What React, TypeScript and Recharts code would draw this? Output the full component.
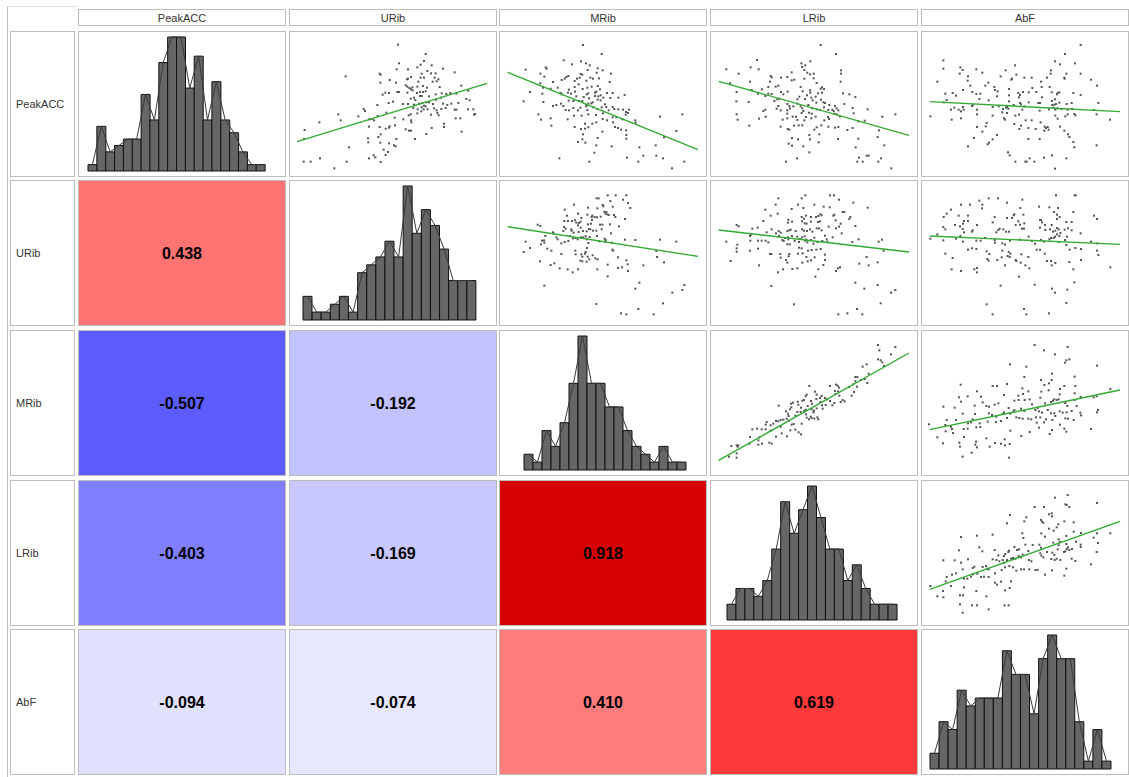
import React from 'react';
import { ScatterChart, Scatter, XAxis, YAxis, ComposedChart, Bar, Line } from 'recharts';

const variables = ['PeakACC', 'URib', 'MRib', 'LRib', 'AbF'];

// histogram bin counts (diagonal)
const histPeakACC = [1, 7, 3, 4, 5, 5, 12, 8, 17, 21, 21, 13, 18, 8, 14, 8, 6, 3, 1, 1];
const histURib = [3, 1, 1, 2, 3, 1, 6, 7, 8, 10, 8, 17, 11, 14, 12, 9, 5, 5, 5];
const histMRib = [2, 1, 5, 3, 6, 11, 17, 11, 11, 8, 8, 5, 3, 2, 1, 3, 1, 1];
const histLRib = [2, 4, 4, 3, 5, 9, 15, 11, 14, 17, 13, 9, 9, 5, 7, 4, 2, 2, 2];
const histAbF = [2, 6, 5, 10, 8, 9, 9, 9, 15, 12, 12, 7, 14, 17, 14, 14, 6, 1, 5, 1];

// correlations (lower triangle, row by row)
const corrURib = [0.438];
const corrMRib = [-0.507, -0.192];
const corrLRib = [-0.403, -0.169, 0.918];
const corrAbF = [-0.094, -0.074, 0.41, 0.619];

// scatter points, [x, y] in panel units (x 0-624, y 0-435)
const ptsPeakACC_URib = [[327,394],[410,366],[330,338],[405,345],[395,334],[428,332],[385,326],[357,320],[323,320],[462,322],[415,315],[426,308],[440,308],[398,307],[272,307],[275,304],[170,299],[366,297],[354,290],[357,292],[437,295],[405,295],[395,295],[497,311],[448,290],[302,288],[388,283],[431,283],[274,280],[321,280],[443,284],[350,272],[355,268],[361,264],[370,266],[366,260],[385,268],[402,270],[414,265],[452,267],[517,271],[289,250],[281,244],[300,249],[325,252],[330,252],[355,250],[371,257],[384,249],[393,252],[402,252],[410,254],[420,239],[440,245],[458,248],[472,246],[484,249],[502,247],[538,256],[456,235],[398,240],[393,240],[375,235],[379,228],[365,232],[312,223],[299,219],[265,213],[342,216],[357,216],[375,214],[390,217],[400,219],[405,211],[412,221],[420,221],[432,216],[441,229],[462,217],[475,213],[487,217],[508,219],[532,231],[542,227],[373,204],[386,200],[398,206],[404,200],[410,209],[416,200],[435,203],[443,197],[457,201],[470,204],[497,199],[502,199],[537,200],[553,200],[555,184],[558,186],[224,201],[228,195],[148,185],[208,179],[155,167],[241,170],[248,171],[255,167],[266,180],[292,190],[317,175],[343,170],[359,182],[365,185],[366,167],[367,161],[385,188],[397,194],[426,184],[445,189],[449,182],[465,157],[465,147],[500,173],[514,173],[518,133],[91,161],[47,138],[45,111],[240,148],[272,147],[290,142],[300,145],[302,149],[318,152],[350,140],[360,136],[366,136],[428,144],[412,126],[378,111],[322,111],[237,113],[238,101],[268,117],[275,125],[180,86],[274,100],[300,98],[315,92],[320,89],[284,79],[297,72],[254,62],[259,56],[240,53],[290,63],[275,42],[173,43],[136,23],[93,53],[65,43],[44,43]];
const fitPeakACC_URib = [[24,103],[594,278]];

const ptsPeakACC_MRib = [[252,393],[308,366],[194,347],[246,344],[219,335],[261,338],[272,332],[140,326],[80,319],[143,322],[296,323],[293,310],[311,317],[266,318],[245,306],[250,304],[336,307],[124,307],[136,298],[208,300],[202,297],[197,292],[188,288],[162,282],[124,278],[234,292],[242,295],[227,285],[239,275],[227,267],[262,286],[274,295],[282,292],[300,293],[332,282],[278,268],[296,270],[303,260],[251,261],[265,265],[210,259],[176,265],[155,262],[132,265],[93,252],[130,247],[185,249],[188,245],[207,250],[216,247],[228,253],[232,239],[254,237],[268,248],[288,250],[292,253],[305,242],[324,249],[341,249],[377,243],[358,235],[334,234],[313,235],[305,227],[296,229],[288,240],[298,239],[263,245],[270,233],[281,221],[268,217],[277,218],[262,213],[240,225],[250,225],[223,225],[209,226],[186,217],[193,210],[172,213],[162,210],[133,222],[74,224],[200,198],[210,197],[223,204],[237,197],[244,205],[262,209],[265,198],[283,206],[295,201],[308,206],[318,215],[322,207],[329,197],[341,207],[346,201],[358,200],[372,199],[381,192],[390,199],[387,189],[312,188],[291,183],[268,185],[248,181],[225,181],[206,170],[155,173],[126,169],[118,185],[311,171],[324,167],[341,176],[352,176],[370,170],[380,184],[409,167],[410,160],[342,161],[292,161],[280,157],[258,157],[227,147],[246,141],[258,142],[268,146],[157,151],[348,147],[357,144],[366,139],[381,137],[382,123],[382,112],[310,133],[252,125],[250,110],[237,102],[296,114],[259,100],[292,92],[338,89],[286,70],[181,53],[271,43],[384,55],[421,86],[433,61],[470,92],[472,61],[492,53],[495,116],[532,135],[550,185],[483,178],[556,43],[519,23],[418,43]];
const fitPeakACC_MRib = [[26,311],[597,79]];

const ptsPeakACC_LRib = [[332,393],[378,366],[141,348],[122,326],[146,320],[49,320],[86,307],[274,338],[286,332],[301,344],[276,327],[283,318],[292,310],[300,305],[311,307],[245,311],[232,297],[182,300],[185,296],[213,295],[283,292],[311,293],[393,317],[393,307],[253,289],[245,287],[320,279],[392,283],[180,283],[205,271],[197,268],[120,283],[60,278],[175,267],[156,260],[125,258],[80,252],[144,247],[175,247],[185,246],[213,252],[220,245],[233,253],[272,267],[278,254],[300,257],[301,250],[324,248],[336,250],[336,266],[342,261],[332,262],[399,248],[418,245],[436,237],[317,238],[304,235],[291,242],[285,231],[268,238],[262,230],[208,232],[202,230],[193,225],[166,240],[116,222],[79,224],[308,227],[319,220],[333,229],[340,221],[345,219],[358,213],[375,210],[380,203],[403,216],[428,204],[205,210],[200,202],[212,197],[232,216],[238,210],[232,197],[240,203],[250,209],[262,217],[272,209],[277,203],[295,213],[307,203],[280,195],[297,190],[305,187],[320,200],[330,198],[342,206],[355,198],[367,199],[373,187],[385,197],[380,185],[390,179],[371,195],[166,199],[160,195],[80,185],[83,169],[147,172],[167,178],[218,169],[232,187],[232,173],[248,178],[258,178],[275,189],[262,168],[283,167],[288,177],[304,173],[317,178],[343,167],[354,177],[357,171],[431,188],[473,200],[517,178],[556,185],[464,166],[445,164],[428,144],[412,138],[385,147],[375,145],[355,148],[334,152],[320,146],[313,139],[298,123],[300,110],[277,152],[266,152],[252,151],[233,141],[238,139],[212,148],[118,151],[328,125],[264,110],[246,114],[236,97],[246,91],[280,89],[298,71],[326,101],[384,111],[437,86],[445,112],[503,117],[523,92],[507,137],[470,61],[476,61],[447,55],[442,43],[458,43],[505,43],[513,53],[544,23],[261,53],[228,43]];
const fitPeakACC_LRib = [[26,284],[597,122]];

const ptsPeakACC_AbF = [[479,393],[432,366],[67,347],[402,344],[417,335],[462,338],[67,322],[118,326],[125,318],[116,307],[166,320],[184,310],[282,332],[254,317],[286,304],[239,299],[271,289],[273,292],[310,295],[332,295],[390,317],[389,307],[378,295],[436,307],[430,295],[431,292],[479,307],[510,289],[528,271],[49,283],[141,299],[140,286],[148,271],[202,280],[193,271],[220,267],[222,258],[230,254],[126,258],[95,249],[105,241],[73,247],[154,252],[166,246],[178,247],[228,239],[264,261],[264,242],[292,249],[297,243],[294,236],[306,252],[323,251],[334,264],[346,252],[360,283],[362,267],[386,267],[363,236],[392,251],[408,245],[410,249],[415,251],[457,249],[479,243],[402,230],[203,227],[175,231],[77,228],[68,221],[264,224],[278,213],[297,219],[300,215],[310,209],[323,221],[352,219],[357,219],[393,225],[394,213],[400,214],[405,216],[415,220],[437,216],[452,219],[532,219],[100,205],[113,199],[90,199],[120,194],[128,199],[126,207],[153,210],[156,214],[168,199],[215,207],[233,209],[246,201],[255,205],[258,207],[262,202],[304,199],[356,196],[384,200],[397,205],[403,199],[410,203],[422,201],[440,199],[453,201],[518,198],[28,179],[92,169],[120,173],[168,185],[215,181],[244,191],[249,173],[252,169],[258,189],[283,181],[294,184],[314,167],[332,167],[403,181],[410,172],[433,179],[440,185],[460,186],[463,182],[527,185],[567,169],[280,156],[300,151],[295,141],[322,144],[344,141],[359,161],[371,148],[375,144],[380,147],[370,136],[383,139],[417,148],[430,136],[441,125],[445,117],[197,159],[194,149],[168,147],[184,133],[228,123],[215,110],[200,95],[204,100],[159,114],[141,89],[322,111],[356,111],[457,102],[460,86],[527,92],[261,71],[266,62],[283,43],[313,43],[317,43],[326,53],[340,43],[369,55],[393,62],[436,53],[402,22]];
const fitPeakACC_AbF = [[26,223],[597,193]];

const ptsURib_MRib = [[326,389],[350,389],[382,389],[293,380],[299,380],[372,376],[334,372],[387,366],[225,361],[311,360],[313,356],[341,355],[267,352],[295,350],[394,351],[197,346],[237,334],[316,340],[319,334],[322,339],[325,332],[204,328],[247,321],[265,331],[278,324],[279,315],[280,328],[287,324],[294,323],[305,325],[329,330],[345,330],[349,324],[378,318],[196,312],[207,312],[219,312],[228,314],[232,307],[237,299],[240,306],[245,310],[267,302],[276,304],[303,301],[310,301],[333,302],[360,296],[116,301],[124,297],[195,294],[200,289],[193,282],[217,287],[224,277],[218,283],[245,292],[239,279],[252,282],[263,281],[270,288],[274,287],[282,283],[292,283],[308,287],[162,278],[164,274],[139,267],[213,267],[222,260],[230,261],[236,257],[246,263],[253,263],[260,266],[272,264],[294,267],[317,259],[320,255],[336,275],[208,252],[197,249],[187,245],[172,263],[176,257],[129,253],[135,254],[136,247],[80,250],[126,242],[93,231],[74,219],[145,229],[157,223],[264,257],[268,246],[301,251],[318,250],[338,247],[378,256],[409,255],[483,256],[532,250],[229,223],[230,212],[247,212],[258,214],[260,219],[264,231],[187,213],[250,205],[244,193],[250,191],[263,190],[271,197],[266,205],[281,209],[289,200],[296,197],[340,226],[343,223],[357,203],[382,194],[386,182],[472,222],[474,204],[495,188],[433,179],[326,181],[369,173],[357,171],[387,162],[295,167],[237,167],[221,158],[206,167],[182,170],[166,185],[155,180],[123,191],[326,146],[136,118],[421,127],[409,109],[556,120],[550,105],[520,97],[492,65],[292,63],[366,35],[382,32],[418,48],[464,32]];
const fitURib_MRib = [[26,295],[597,206]];

const ptsURib_LRib = [[286,389],[360,389],[372,389],[205,380],[275,380],[387,376],[197,361],[264,361],[313,361],[341,355],[359,353],[430,367],[473,352],[166,346],[245,348],[280,351],[203,334],[182,328],[288,328],[275,324],[282,319],[303,324],[318,324],[325,327],[331,332],[335,329],[370,328],[373,331],[398,339],[403,339],[421,324],[418,318],[160,312],[235,316],[234,307],[246,310],[276,311],[284,305],[290,304],[303,310],[324,309],[330,311],[377,314],[392,304],[387,295],[436,297],[80,300],[86,296],[127,289],[143,292],[170,278],[185,287],[198,275],[206,282],[212,277],[232,282],[238,284],[242,286],[257,282],[276,287],[282,283],[291,282],[300,287],[307,280],[320,290],[327,290],[335,284],[356,295],[378,290],[395,275],[122,270],[120,267],[207,267],[225,261],[234,263],[246,267],[262,265],[270,258],[276,263],[284,266],[289,256],[313,262],[345,268],[368,263],[121,253],[144,253],[155,253],[167,253],[175,248],[217,255],[221,252],[235,257],[254,252],[267,249],[285,253],[292,248],[303,255],[310,244],[323,249],[337,252],[350,257],[352,250],[427,249],[446,257],[506,250],[516,256],[49,250],[82,241],[80,230],[80,220],[120,223],[144,229],[232,242],[239,242],[267,232],[275,230],[294,223],[305,225],[319,226],[332,228],[521,223],[180,213],[184,213],[211,213],[212,202],[228,195],[238,213],[236,206],[264,214],[278,215],[289,204],[293,191],[303,194],[314,203],[345,211],[345,195],[62,192],[147,179],[219,167],[232,187],[247,168],[262,170],[277,187],[340,180],[325,167],[378,162],[384,170],[390,173],[448,184],[476,179],[470,204],[503,188],[316,145],[204,158],[184,117],[436,127],[463,109],[503,120],[543,97],[556,105],[512,65],[252,62],[441,48],[385,32],[412,35],[457,32]];
const fitURib_LRib = [[26,285],[597,219]];

const ptsURib_AbF = [[405,389],[461,389],[464,389],[203,380],[231,380],[304,376],[175,373],[184,361],[183,350],[120,361],[147,361],[258,367],[354,355],[385,353],[411,351],[90,346],[77,334],[68,324],[113,328],[141,328],[221,324],[258,321],[273,321],[278,329],[280,332],[307,331],[298,351],[399,339],[408,331],[416,324],[408,318],[457,339],[519,328],[528,318],[129,312],[126,304],[141,312],[215,308],[292,311],[297,301],[284,300],[310,305],[357,315],[360,315],[363,308],[372,300],[392,300],[436,309],[452,309],[102,300],[117,296],[125,288],[168,300],[236,289],[67,294],[73,287],[129,278],[155,284],[153,280],[226,278],[232,285],[247,287],[255,280],[264,280],[303,289],[309,289],[357,292],[373,285],[387,287],[396,280],[403,283],[408,291],[413,287],[418,276],[431,286],[441,290],[452,284],[479,275],[49,272],[118,267],[28,259],[105,259],[67,254],[126,250],[166,253],[179,253],[192,261],[221,255],[222,247],[244,245],[252,241],[267,253],[297,256],[323,265],[333,252],[342,244],[360,255],[369,250],[385,257],[390,261],[398,261],[402,265],[408,272],[415,267],[413,249],[432,255],[438,265],[436,240],[510,250],[529,245],[141,226],[153,230],[166,228],[197,221],[205,213],[244,223],[263,219],[268,214],[260,207],[266,204],[242,203],[229,195],[199,198],[203,193],[73,214],[95,201],[301,212],[322,204],[284,195],[286,192],[299,187],[313,179],[325,170],[347,226],[357,226],[371,214],[378,192],[390,192],[392,179],[403,186],[446,226],[463,231],[480,228],[528,223],[532,210],[445,189],[480,195],[568,173],[457,167],[168,171],[168,158],[160,167],[92,167],[120,162],[252,179],[294,145],[341,121],[393,109],[402,97],[439,106],[460,128],[239,118],[436,66],[197,62],[215,32],[309,48],[316,32],[384,35]];
const fitURib_AbF = [[26,267],[597,242]];

const ptsMRib_LRib = [[504,390],[556,384],[508,374],[543,362],[504,347],[512,344],[517,338],[470,332],[458,325],[522,327],[476,304],[436,294],[442,294],[464,288],[472,276],[453,285],[436,281],[430,272],[417,264],[441,265],[432,249],[425,238],[378,271],[383,268],[387,262],[375,252],[360,267],[384,251],[388,238],[376,243],[398,225],[404,221],[392,219],[373,216],[367,209],[360,222],[352,227],[345,231],[335,237],[330,231],[320,241],[319,228],[315,250],[298,267],[290,241],[287,236],[282,225],[277,223],[303,222],[306,214],[331,219],[336,209],[347,210],[338,199],[320,200],[312,193],[310,188],[305,197],[293,207],[287,196],[283,192],[273,202],[265,211],[263,220],[249,217],[243,214],[244,203],[240,197],[228,191],[234,184],[236,177],[256,178],[262,189],[272,189],[282,190],[288,182],[290,172],[302,175],[305,171],[313,169],[322,173],[325,167],[297,167],[275,154],[251,153],[245,151],[236,163],[230,169],[220,166],[212,165],[205,161],[198,162],[206,208],[190,154],[182,149],[170,159],[167,151],[182,133],[167,137],[155,137],[141,139],[127,137],[212,145],[215,125],[198,115],[231,116],[241,134],[256,136],[266,128],[273,122],[148,113],[145,104],[156,94],[145,91],[178,97],[185,94],[120,114],[118,94],[80,89],[83,85],[85,89],[64,87],[80,65],[80,52],[57,55]];
const fitMRib_LRib = [[26,44],[597,366]];

const ptsMRib_AbF = [[341,390],[440,384],[369,374],[402,362],[436,344],[445,347],[432,337],[267,332],[316,325],[528,328],[393,304],[360,285],[392,285],[384,275],[370,270],[461,295],[119,271],[215,267],[228,267],[258,273],[304,260],[310,294],[417,258],[430,267],[463,267],[568,258],[383,254],[361,250],[168,251],[140,236],[180,235],[249,240],[292,238],[322,251],[306,243],[326,227],[293,225],[280,223],[311,225],[333,212],[114,233],[120,220],[358,232],[372,215],[390,219],[396,223],[400,227],[407,225],[413,227],[416,242],[461,245],[479,234],[518,233],[527,236],[461,225],[433,216],[439,207],[467,207],[185,218],[204,205],[196,207],[221,211],[232,215],[161,208],[67,205],[101,202],[263,201],[280,195],[300,199],[310,192],[343,195],[350,201],[354,191],[363,187],[380,195],[390,185],[400,185],[403,177],[416,191],[425,187],[437,188],[452,192],[478,187],[480,179],[531,195],[528,188],[125,184],[162,183],[204,185],[213,180],[226,175],[245,183],[249,188],[258,171],[268,184],[277,190],[286,173],[295,171],[305,169],[322,169],[331,167],[345,173],[358,173],[375,167],[394,165],[433,170],[441,169],[458,165],[77,165],[105,165],[155,167],[141,155],[150,158],[200,160],[225,159],[240,162],[176,155],[347,157],[369,158],[354,142],[417,151],[393,135],[430,139],[436,130],[510,138],[73,150],[90,145],[93,138],[128,138],[140,139],[166,143],[178,144],[49,113],[74,131],[96,126],[129,114],[268,133],[326,129],[301,117],[386,123],[24,152],[66,95],[115,97],[117,85],[165,100],[168,83],[163,91],[196,110],[222,96],[240,94],[251,107],[252,89],[266,93],[206,85],[152,67],[125,55],[264,52]];
const fitMRib_AbF = [[26,136],[597,255]];

const ptsLRib_AbF = [[402,382],[440,390],[433,362],[437,360],[445,354],[528,366],[341,354],[369,354],[384,332],[392,335],[393,326],[267,330],[316,323],[310,311],[258,305],[360,315],[367,307],[363,310],[412,302],[407,293],[398,283],[384,289],[361,275],[458,308],[430,311],[120,264],[168,268],[215,271],[304,275],[307,261],[372,265],[436,267],[458,280],[480,276],[518,262],[528,275],[568,275],[175,233],[184,221],[114,224],[221,225],[232,209],[249,207],[253,213],[262,219],[264,223],[280,234],[288,225],[294,227],[313,241],[322,222],[335,240],[355,241],[360,232],[358,215],[378,219],[394,217],[400,210],[410,227],[413,239],[416,249],[397,247],[413,257],[436,243],[441,233],[437,228],[445,225],[453,228],[465,250],[479,241],[479,234],[531,246],[527,219],[433,221],[429,219],[67,194],[101,194],[120,187],[141,197],[155,171],[160,175],[125,167],[185,174],[198,169],[203,167],[215,197],[226,195],[235,191],[245,195],[248,187],[258,195],[270,199],[276,201],[283,199],[293,207],[300,203],[305,211],[324,195],[331,191],[361,208],[367,203],[391,198],[401,195],[407,199],[418,195],[452,199],[463,192],[510,182],[77,144],[93,151],[105,155],[74,131],[90,117],[129,139],[139,139],[150,145],[156,152],[169,154],[180,144],[189,145],[195,177],[203,144],[222,155],[222,127],[228,121],[240,130],[242,165],[252,173],[265,177],[276,173],[286,163],[300,167],[309,167],[325,167],[343,165],[350,165],[372,151],[393,164],[436,169],[430,148],[28,117],[66,102],[49,86],[67,83],[129,113],[166,102],[196,86],[252,104],[266,111],[270,131],[117,89],[126,89],[117,62],[153,59],[168,59],[203,47],[251,59],[263,59],[125,37]];
const fitLRib_AbF = [[26,107],[597,311]];

const BORDER = '#bdbdbd';
const FONT = '"Liberation Sans", Arial, Helvetica, sans-serif';
const COL_LEFT = [78, 289, 499, 710, 921];
const ROW_TOP = [31, 180, 330, 480, 629];
const CELL_W = 208;
const CELL_H = 146;

function corrColor(r: number): string {
  const a = Math.abs(r);
  const base = Math.round(Math.max(0, 255 * (1 - 1.25 * a)));
  if (r >= 0) {
    const red = a > 0.78 ? Math.round(255 - (a - 0.78) * 300) : 255;
    return `rgb(${red},${base},${base})`;
  }
  return `rgb(${base},${base},255)`;
}

const PointShape = (p: any) => (
  <rect x={p.cx - 1} y={p.cy - 1} width={2} height={2} fill="#555" />
);
const NoShape = () => <g />;

function ScatterPanel({ points, fit }: { points: number[][]; fit: number[][] }) {
  const data = points.map(([x, y]) => ({ x, y }));
  const line = fit.map(([x, y]) => ({ x, y }));
  return (
    <ScatterChart width={208} height={145} margin={{ top: 0, right: 0, bottom: 0, left: 0 }}>
      <XAxis type="number" dataKey="x" domain={[0, 624]} hide />
      <YAxis type="number" dataKey="y" domain={[0, 435]} hide />
      <Scatter data={data} shape={PointShape} isAnimationActive={false} />
      <Scatter
        data={line}
        shape={NoShape}
        line={{ stroke: '#33aa33', strokeWidth: 1.4 }}
        isAnimationActive={false}
      />
    </ScatterChart>
  );
}

function HistPanel({ counts, left, right }: { counts: number[]; left: number; right: number }) {
  const data = counts.map((c, i) => ({ bin: i, count: c }));
  const max = Math.max(...counts);
  return (
    <ComposedChart
      width={208}
      height={146}
      data={data}
      margin={{ top: 6, right, bottom: 6, left }}
      barCategoryGap={0}
      barGap={0}
    >
      <XAxis dataKey="bin" hide />
      <YAxis domain={[0, max]} hide />
      <Bar dataKey="count" fill="#666666" stroke="#111" strokeWidth={1} isAnimationActive={false} />
      <Line dataKey="count" type="linear" stroke="#3a3a3a" strokeWidth={1} dot={false} isAnimationActive={false} />
    </ComposedChart>
  );
}

const box = (left: number, top: number, width: number, height: number, extra: any = {}): React.CSSProperties => ({
  position: 'absolute',
  left,
  top,
  width,
  height,
  boxSizing: 'border-box',
  border: `1px solid ${BORDER}`,
  overflow: 'hidden',
  ...extra,
});

export default function App() {
  const scatters: Record<string, [number[][], number[][]]> = {
    '0-1': [ptsPeakACC_URib, fitPeakACC_URib],
    '0-2': [ptsPeakACC_MRib, fitPeakACC_MRib],
    '0-3': [ptsPeakACC_LRib, fitPeakACC_LRib],
    '0-4': [ptsPeakACC_AbF, fitPeakACC_AbF],
    '1-2': [ptsURib_MRib, fitURib_MRib],
    '1-3': [ptsURib_LRib, fitURib_LRib],
    '1-4': [ptsURib_AbF, fitURib_AbF],
    '2-3': [ptsMRib_LRib, fitMRib_LRib],
    '2-4': [ptsMRib_AbF, fitMRib_AbF],
    '3-4': [ptsLRib_AbF, fitLRib_AbF],
  };
  const hists: [number[], number, number][] = [
    [histPeakACC, 10, 21],
    [histURib, 14, 21],
    [histMRib, 25, 21],
    [histLRib, 17, 21],
    [histAbF, 9, 18],
  ];
  const corrs = [[], corrURib, corrMRib, corrLRib, corrAbF];

  const cells: React.ReactNode[] = [];
  for (let r = 0; r < 5; r++) {
    for (let c = 0; c < 5; c++) {
      const left = COL_LEFT[c];
      const top = ROW_TOP[r];
      const key = `${r}-${c}`;
      if (r === c) {
        const [counts, l, rt] = hists[r];
        cells.push(
          <div key={key} style={box(left, top, CELL_W, CELL_H, { background: '#fff' })}>
            <div style={{ position: 'absolute', left: -1, top: -1 }}>
              <HistPanel counts={counts} left={l} right={rt} />
            </div>
          </div>
        );
      } else if (c > r) {
        const [pts, fit] = scatters[key];
        cells.push(
          <div key={key} style={box(left, top, CELL_W, CELL_H, { background: '#fff' })}>
            <div style={{ position: 'absolute', left: -1, top: -1 }}>
              <ScatterPanel points={pts} fit={fit} />
            </div>
          </div>
        );
      } else {
        const v = corrs[r][c];
        cells.push(
          <div
            key={key}
            style={box(left, top, CELL_W, CELL_H, {
              background: corrColor(v),
              display: 'flex',
              alignItems: 'center',
              justifyContent: 'center',
              paddingTop: 2,
              fontSize: 16,
              fontWeight: 'bold',
              color: '#000',
              fontFamily: FONT,
            })}
          >
            {v.toFixed(3)}
          </div>
        );
      }
    }
  }

  return (
    <div style={{ position: 'absolute', left: 0, top: 0, width: 1129, height: 777, background: '#fff', fontFamily: FONT }}>
      <div style={{ position: 'absolute', left: 7, top: 6, width: 1, height: 771, background: BORDER }} />
      <div style={{ position: 'absolute', left: 7, top: 6, width: 70, height: 1, background: '#e0e0e0' }} />
      {variables.map((name, i) => (
        <div
          key={`h-${name}`}
          style={box(COL_LEFT[i], 9, CELL_W, 17, {
            fontSize: 11,
            color: '#333',
            display: 'flex',
            alignItems: 'center',
            justifyContent: 'center',
          })}
        >
          {name}
        </div>
      ))}
      {variables.map((name, i) => (
        <div
          key={`l-${name}`}
          style={box(10, ROW_TOP[i], 65, CELL_H, {
            fontSize: 11,
            color: '#333',
            display: 'flex',
            alignItems: 'center',
            paddingLeft: 5,
          })}
        >
          {name}
        </div>
      ))}
      {cells}
    </div>
  );
}
